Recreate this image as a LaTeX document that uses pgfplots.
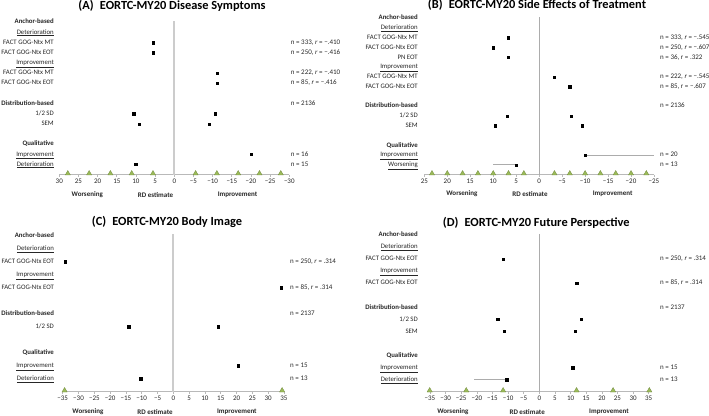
\documentclass[border=0pt]{standalone}
\usepackage{pgfplots}
\pgfplotsset{compat=1.18}
\usepackage{fontspec}
\setmainfont{Carlito}
\definecolor{tri}{HTML}{9BBB59}
\definecolor{trid}{HTML}{71893F}
\newcommand{\fs}{\fontsize{7}{8.4}\selectfont}
\newcommand{\fsl}{\fontsize{6.8}{8.2}\selectfont}
\pgfplotsset{
  panel/.style={
    scale only axis, clip=false,
    axis x line*=bottom, axis y line=none,
    x axis line style={draw=gray!55, line width=0.8pt, -},
    xtick style={draw=gray!55, line width=0.6pt},
    major tick length=2.2pt, tick align=outside,
    ytick=\empty,
    tick label style={font=\fs, text=black!85},
    xticklabel style={inner sep=1.5pt},
  },
  pts/.style={only marks, mark=square*, mark size=1.15pt, black},
  tris/.style={only marks, mark=triangle*, mark size=3pt, mark options={fill=tri, draw=trid, line width=0.3pt, yshift=1.2pt}},
  zthick/.style={gray!40, line width=1.8pt},
  zthin/.style={gray!65, line width=0.8pt},
  rng/.style={gray!65, line width=1pt},
}
\tikzset{
  lab/.style={font=\fs, text=black!85, text height=4.8pt, text depth=1.4pt, inner sep=0pt},
  ll/.style={lab, font=\fsl, anchor=east},
  rl/.style={lab, anchor=west},
  bl/.style={font=\fs\bfseries, text=black!85, anchor=center},
  ttl/.style={font=\bfseries\fontsize{12.4}{14}\selectfont, anchor=center},
}
\begin{document}
\begin{tikzpicture}
\useasboundingbox (0,0) rectangle (709pt,415pt);
\node[ttl] at (172pt,409pt) {(A)\hspace{0.5em}EORTC-MY20 Disease Symptoms};
\node[ttl] at (537pt,410pt) {(B)\hspace{0.5em}EORTC-MY20 Side Effects of Treatment};
\node[ttl] at (167pt,193.3pt) {(C)\hspace{0.5em}EORTC-MY20 Body Image};
\node[ttl] at (536.3pt,192.3pt) {(D)\hspace{0.5em}EORTC-MY20 Future Perspective};

% ---------------- A ----------------
\begin{axis}[panel, at={(59.3pt,240.3pt)}, anchor=south west, width=230pt, height=155.45pt,
  xmin=-30, xmax=30, x dir=reverse, ymin=-15, ymax=0.3,
  xtick={-30,-25,...,30}, xticklabels={−30,−25,−20,−15,−10,−5,0,5,10,15,20,25,30}]
\addplot[zthick] coordinates {(0,0.1) (0,-15)};
\addplot[pts] coordinates {(5.56,-2) (5.56,-3) (-11.11,-5) (-11.11,-6) (10.6,-9) (-10.6,-9) (9.1,-10) (-9.1,-10) (-20.1,-13) (10.1,-14)};
\addplot[tris] coordinates {(27.78,-15) (22.22,-15) (16.67,-15) (11.11,-15) (5.56,-15) (-5.56,-15) (-11.11,-15) (-16.67,-15) (-22.22,-15) (-27.78,-15)};
\node[ll,xshift=-5.3pt] at (axis cs:30,0) {\textbf{Anchor-based}};
\node[ll,xshift=-5.3pt] at (axis cs:30,-1) {\underline{Deterioration}};
\node[ll,xshift=-5.3pt] at (axis cs:30,-2) {FACT GOG-Ntx MT};
\node[ll,xshift=-5.3pt] at (axis cs:30,-3) {FACT GOG-Ntx EOT};
\node[ll,xshift=-5.3pt] at (axis cs:30,-4) {\underline{Improvement}};
\node[ll,xshift=-5.3pt] at (axis cs:30,-5) {FACT GOG-Ntx MT};
\node[ll,xshift=-5.3pt] at (axis cs:30,-6) {FACT GOG-Ntx EOT};
\node[ll,xshift=-5.3pt] at (axis cs:30,-8) {\textbf{Distribution-based}};
\node[ll,xshift=-5.3pt] at (axis cs:30,-9) {1/2 SD};
\node[ll,xshift=-5.3pt] at (axis cs:30,-10) {SEM};
\node[ll,xshift=-5.3pt] at (axis cs:30,-12) {\textbf{Qualitative}};
\node[ll,xshift=-5.3pt] at (axis cs:30,-13) {\underline{Improvement}};
\node[ll,xshift=-5.3pt] at (axis cs:30,-14) {\underline{Deterioration}};
\node[rl,xshift=1.4pt] at (axis cs:-30,-2) {n = 333, \textit{r} = −.410};
\node[rl,xshift=1.4pt] at (axis cs:-30,-3) {n = 250, \textit{r} = −.416};
\node[rl,xshift=1.4pt] at (axis cs:-30,-5) {n = 222, \textit{r} = −.410};
\node[rl,xshift=1.4pt] at (axis cs:-30,-6) {n = 85, \textit{r} = −.416};
\node[rl,xshift=1.4pt] at (axis cs:-30,-8) {n = 2136};
\node[rl,xshift=1.4pt] at (axis cs:-30,-13) {n = 16};
\node[rl,xshift=1.4pt] at (axis cs:-30,-14) {n = 15};
\node[bl] at (axis cs:22.7,-17) {Worsening};
\node[bl] at (axis cs:4.9,-17) {RD estimate};
\node[bl] at (axis cs:-16.5,-17) {Improvement};
\end{axis}

% ---------------- B ----------------
\begin{axis}[panel, at={(424.3pt,240.3pt)}, anchor=south west, width=229.7pt, height=159.41pt,
  xmin=-25, xmax=25, x dir=reverse, ymin=-16, ymax=0.3,
  xtick={-25,-20,...,25}, xticklabels={−25,−20,−15,−10,−5,0,5,10,15,20,25}]
\addplot[zthin] coordinates {(0,0.1) (0,-16)};
\addplot[rng] coordinates {(-10,-14) (-25,-14)};
\addplot[rng] coordinates {(5,-15) (10,-15)};
\addplot[pts] coordinates {(6.67,-2) (10,-3) (6.67,-4) (-3.33,-6) (-6.67,-7) (7,-10) (-6.9,-10) (9.5,-11) (-9.4,-11) (-10,-14) (5,-15)};
\addplot[tris] coordinates {(23.33,-16) (20,-16) (16.67,-16) (13.33,-16) (10,-16) (6.67,-16) (3.33,-16) (-3.33,-16) (-6.67,-16) (-10,-16) (-13.33,-16) (-16.67,-16) (-20,-16) (-23.33,-16)};
\node[ll,xshift=-6.3pt] at (axis cs:25,0) {\textbf{Anchor-based}};
\node[ll,xshift=-6.3pt] at (axis cs:25,-1) {\underline{Deterioration}};
\node[ll,xshift=-6.3pt] at (axis cs:25,-2) {FACT GOG-Ntx MT};
\node[ll,xshift=-6.3pt] at (axis cs:25,-3) {FACT GOG-Ntx EOT};
\node[ll,xshift=-6.3pt] at (axis cs:25,-4) {PN EOT};
\node[ll,xshift=-6.3pt] at (axis cs:25,-5) {\underline{Improvement}};
\node[ll,xshift=-6.3pt] at (axis cs:25,-6) {FACT GOG-Ntx MT};
\node[ll,xshift=-6.3pt] at (axis cs:25,-7) {FACT GOG-Ntx EOT};
\node[ll,xshift=-6.3pt] at (axis cs:25,-9) {\textbf{Distribution-based}};
\node[ll,xshift=-6.3pt] at (axis cs:25,-10) {1/2 SD};
\node[ll,xshift=-6.3pt] at (axis cs:25,-11) {SEM};
\node[ll,xshift=-6.3pt] at (axis cs:25,-13) {\textbf{Qualitative}};
\node[ll,xshift=-6.3pt] at (axis cs:25,-14) {\underline{Improvement}};
\node[ll,xshift=-6.3pt] at (axis cs:25,-15) {\underline{Worsening}};
\node[rl,xshift=6pt] at (axis cs:-25,-2) {n = 333, \textit{r} = −.545};
\node[rl,xshift=6pt] at (axis cs:-25,-3) {n = 250, \textit{r} = −.607};
\node[rl,xshift=6pt] at (axis cs:-25,-4) {n = 36, r = .322};
\node[rl,xshift=6pt] at (axis cs:-25,-6) {n = 222, \textit{r} = −.545};
\node[rl,xshift=6pt] at (axis cs:-25,-7) {n = 85, r = −.607};
\node[rl,xshift=6pt] at (axis cs:-25,-9) {n = 2136};
\node[rl,xshift=6pt] at (axis cs:-25,-14) {n = 20};
\node[rl,xshift=6pt] at (axis cs:-25,-15) {n = 13};
\node[bl] at (axis cs:16.8,-17.95) {Worsening};
\node[bl] at (axis cs:2.0,-17.95) {RD estimate};
\node[bl] at (axis cs:-16.0,-17.95) {Improvement};
\end{axis}

% ---------------- C ----------------
\begin{axis}[panel, at={(62.7pt,23.3pt)}, anchor=south west, width=221.3pt, height=159.9pt,
  xmin=-35, xmax=35, ymin=-12, ymax=0.3,
  xtick={-35,-30,...,35}, xticklabels={−35,−30,−25,−20,−15,−10,−5,0,5,10,15,20,25,30,35}]
\addplot[zthick] coordinates {(0,0.1) (0,-12)};
\addplot[pts] coordinates {(-34.2,-2) (34.2,-4) (-14.1,-7) (14.2,-7) (20.6,-10) (-10.3,-11)};
\addplot[tris] coordinates {(-34.4,-12) (34.4,-12)};
\node[ll,xshift=-8.6pt] at (axis cs:-35,0) {\textbf{Anchor-based}};
\node[ll,xshift=-8.6pt] at (axis cs:-35,-1) {\underline{Deterioration}};
\node[ll,xshift=-8.6pt] at (axis cs:-35,-2) {FACT GOG-Ntx EOT};
\node[ll,xshift=-8.6pt] at (axis cs:-35,-3) {\underline{Improvement}};
\node[ll,xshift=-8.6pt] at (axis cs:-35,-4) {FACT GOG-Ntx EOT};
\node[ll,xshift=-8.6pt] at (axis cs:-35,-6) {\textbf{Distribution-based}};
\node[ll,xshift=-8.6pt] at (axis cs:-35,-7) {1/2 SD};
\node[ll,xshift=-8.6pt] at (axis cs:-35,-9) {\textbf{Qualitative}};
\node[ll,xshift=-8.6pt] at (axis cs:-35,-10) {\underline{Improvement}};
\node[ll,xshift=-8.6pt] at (axis cs:-35,-11) {\underline{Deterioration}};
\node[rl,xshift=6pt] at (axis cs:35,-2) {n = 250, \textit{r} = .314};
\node[rl,xshift=6pt] at (axis cs:35,-4) {n = 85, \textit{r} = .314};
\node[rl,xshift=6pt] at (axis cs:35,-6) {n = 2137};
\node[rl,xshift=6pt] at (axis cs:35,-10) {n = 15};
\node[rl,xshift=6pt] at (axis cs:35,-11) {n = 13};
\node[bl] at (axis cs:-27,-13.54) {Worsening};
\node[bl] at (axis cs:-5.8,-13.54) {RD estimate};
\node[bl] at (axis cs:20.1,-13.54) {Improvement};
\end{axis}

% ---------------- D ----------------
\begin{axis}[panel, at={(430pt,23.3pt)}, anchor=south west, width=218.7pt, height=160.27pt,
  xmin=-35, xmax=35, ymin=-13, ymax=0.3,
  xtick={-35,-30,...,35}, xticklabels={−35,−30,−25,−20,−15,−10,−5,0,5,10,15,20,25,30,35}]
\addplot[zthin] coordinates {(0,0.1) (0,-13)};
\addplot[rng] coordinates {(-20.9,-12) (-10.5,-12)};
\addplot[pts] coordinates {(-11.6,-2) (12,-4) (-13.3,-7) (13.4,-7) (-11.2,-8) (11.4,-8) (10.7,-11) (-10.5,-12)};
\addplot[tris] coordinates {(-35.1,-13) (-23.4,-13) (-11.6,-13) (11.9,-13) (23.6,-13) (35.2,-13)};
\node[ll,xshift=-12pt] at (axis cs:-35,0) {\textbf{Anchor-based}};
\node[ll,xshift=-12pt] at (axis cs:-35,-1) {\underline{Deterioration}};
\node[ll,xshift=-12pt] at (axis cs:-35,-2) {FACT GOG-Ntx EOT};
\node[ll,xshift=-12pt] at (axis cs:-35,-3) {\underline{Improvement}};
\node[ll,xshift=-12pt] at (axis cs:-35,-4) {FACT GOG-Ntx EOT};
\node[ll,xshift=-12pt] at (axis cs:-35,-6) {\textbf{Distribution-based}};
\node[ll,xshift=-12pt] at (axis cs:-35,-7) {1/2 SD};
\node[ll,xshift=-12pt] at (axis cs:-35,-8) {SEM};
\node[ll,xshift=-12pt] at (axis cs:-35,-10) {\textbf{Qualitative}};
\node[ll,xshift=-12pt] at (axis cs:-35,-11) {\underline{Improvement}};
\node[ll,xshift=-12pt] at (axis cs:-35,-12) {\underline{Deterioration}};
\node[rl,xshift=11.3pt] at (axis cs:35,-2) {n = 250, \textit{r} = .314};
\node[rl,xshift=11.3pt] at (axis cs:35,-4) {n = 85, \textit{r} = .314};
\node[rl,xshift=11.3pt] at (axis cs:35,-6) {n = 2137};
\node[rl,xshift=11.3pt] at (axis cs:35,-11) {n = 15};
\node[rl,xshift=11.3pt] at (axis cs:35,-12) {n = 13};
\node[bl] at (axis cs:-27.7,-14.66) {Worsening};
\node[bl] at (axis cs:-3.9,-14.66) {RD estimate};
\node[bl] at (axis cs:22.3,-14.66) {Improvement};
\end{axis}
\end{tikzpicture}
\end{document}
